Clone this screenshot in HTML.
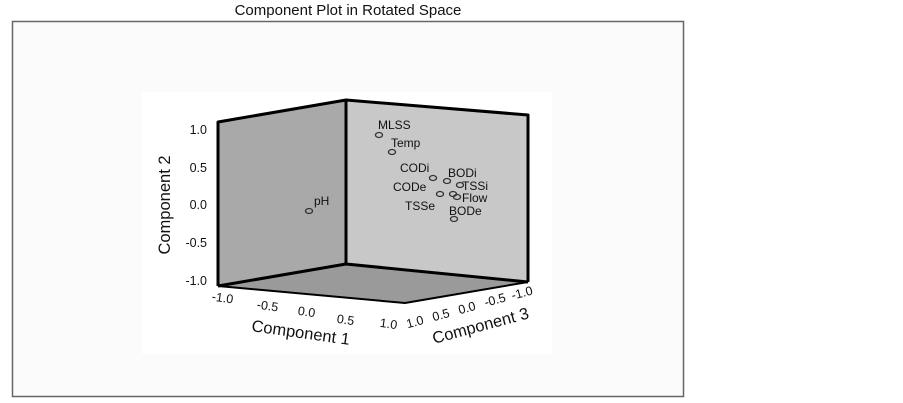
<!DOCTYPE html>
<html><head><style>
html,body{margin:0;padding:0;background:#fff;width:903px;height:403px;overflow:hidden}
svg text{font-family:"Liberation Sans",Arial,sans-serif;fill:#111}
</style></head><body>
<svg width="903" height="403" viewBox="0 0 903 403" xmlns="http://www.w3.org/2000/svg">
<text x="348" y="15" font-size="15" text-anchor="middle">Component Plot in Rotated Space</text>
<rect x="12.5" y="21.5" width="671" height="375" fill="#fbfbfb" stroke="#666" stroke-width="1.5"/>
<rect x="142" y="92" width="410" height="262" fill="#fff"/>
<polygon points="218,286 346,264 528,282 405,303" fill="#9a9a9a"/>
<polygon points="218,122 346,100 346,264 218,286" fill="#a9a9a9"/>
<polygon points="346,100 528,115 528,282 346,264" fill="#c8c8c8"/>
<g stroke="#000" stroke-width="3" fill="none" stroke-linejoin="round">
<polyline points="218,286 218,122 346,100 528,115 528,282"/>
<line x1="346" y1="100" x2="346" y2="264"/>
<polyline points="218,286 346,264 528,282"/>
<polyline points="218,286 405,303 528,282" stroke-width="2"/>
</g>
<g font-size="12.5" text-anchor="end">
<text x="207" y="134">1.0</text>
<text x="207" y="172">0.5</text>
<text x="207" y="209">0.0</text>
<text x="207" y="247">-0.5</text>
<text x="207" y="285">-1.0</text>
</g>
<text transform="translate(170,205) rotate(-90)" font-size="16.5" text-anchor="middle">Component 2</text>
<g font-size="12.5" text-anchor="middle">
<text transform="translate(222,302) rotate(8)">-1.0</text>
<text transform="translate(267,310) rotate(8)">-0.5</text>
<text transform="translate(306,316) rotate(8)">0.0</text>
<text transform="translate(345,324) rotate(8)">0.5</text>
<text transform="translate(388,328) rotate(8)">1.0</text>
<text transform="translate(416,326) rotate(-15)">1.0</text>
<text transform="translate(442,319) rotate(-15)">0.5</text>
<text transform="translate(468,312) rotate(-15)">0.0</text>
<text transform="translate(496,304) rotate(-15)">-0.5</text>
<text transform="translate(523,297) rotate(-15)">-1.0</text>
</g>
<text transform="translate(300,338) rotate(8)" font-size="16.5" text-anchor="middle">Component 1</text>
<text transform="translate(482,331) rotate(-15)" font-size="16.5" text-anchor="middle">Component 3</text>
<g fill="none" stroke="#333" stroke-width="1.3">
<ellipse cx="379" cy="135" rx="3.5" ry="2.5"/>
<ellipse cx="392" cy="152" rx="3.5" ry="2.5"/>
<ellipse cx="433" cy="178" rx="3.5" ry="2.5"/>
<ellipse cx="447" cy="181" rx="3.5" ry="2.5"/>
<ellipse cx="460" cy="185" rx="3.5" ry="2.5"/>
<ellipse cx="440" cy="194" rx="3.5" ry="2.5"/>
<ellipse cx="453" cy="194" rx="3.5" ry="2.5"/>
<ellipse cx="457" cy="197" rx="3.5" ry="2.5"/>
<ellipse cx="454" cy="219" rx="3.5" ry="2.5"/>
<ellipse cx="309" cy="211" rx="3.5" ry="2.5"/>
</g>
<g font-size="12">
<text x="378" y="129">MLSS</text>
<text x="391" y="147">Temp</text>
<text x="400" y="172">CODi</text>
<text x="448" y="177">BODi</text>
<text x="462" y="190">TSSi</text>
<text x="393" y="191">CODe</text>
<text x="462" y="202">Flow</text>
<text x="405" y="210">TSSe</text>
<text x="449" y="215">BODe</text>
<text x="314" y="205">pH</text>
</g>
</svg>
</body></html>
